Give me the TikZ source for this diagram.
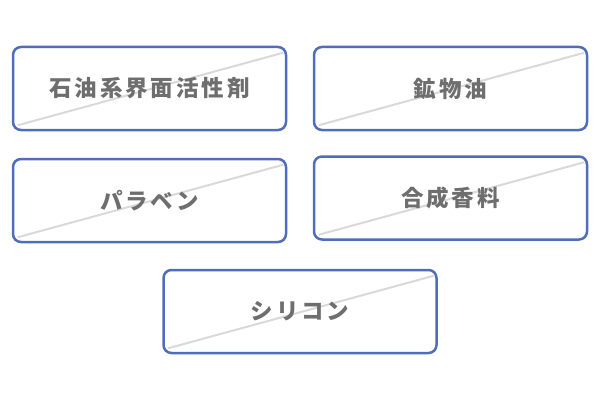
\documentclass[tikz,border=0pt]{standalone}
\usepackage{fontspec}
\usepackage{tikz}
\usetikzlibrary{backgrounds}
\newfontfamily\jpfont[LetterSpace=13]{Noto Sans CJK JP}

\definecolor{boxblue}{HTML}{4F6DB8}
\definecolor{textgray}{HTML}{6E6E6E}
\definecolor{crossgray}{HTML}{D9D9D9}

\begin{document}
\begin{tikzpicture}[x=1pt, y=1pt,
    item/.style={draw=boxblue, line width=2.5pt, rounded corners=8pt,
      minimum width=273pt, minimum height=83pt, inner sep=0pt,
      text=textgray, font=\jpfont\bfseries\fontsize{22.5pt}{26pt}\selectfont},
    cross/.style={draw=crossgray, line width=2pt}]
  \useasboundingbox (0,0) rectangle (600,400);

  \node[item] (sekiyu) at (149.5,311.5) {石油系界面活性剤};
  \node[item] (kobutsu) at (450.5,311.5) {鉱物油};
  \node[item] (paraben) at (149.5,199.5) {パラベン};
  \node[item] (gosei) at (450.5,202) {合成香料};
  \node[item] (silicon) at (300,88.5) {シリコン};

  \begin{scope}[on background layer]
    \foreach \n in {sekiyu, kobutsu, paraben, gosei, silicon}
      \draw[cross] ([shift={(6pt,6pt)}]\n.south west) -- ([shift={(-4pt,-7pt)}]\n.north east);
  \end{scope}
\end{tikzpicture}
\end{document}
